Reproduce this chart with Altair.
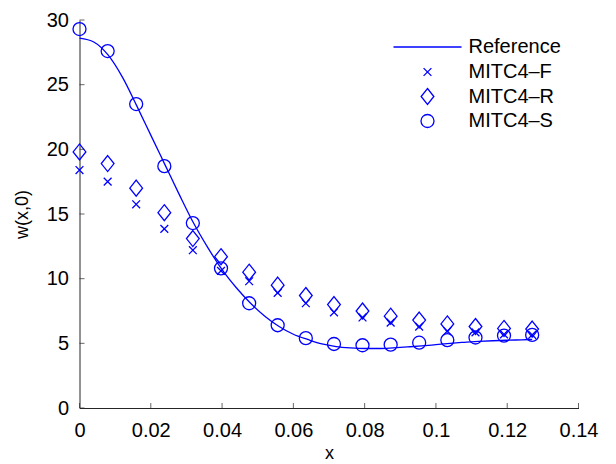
import altair as alt
import pandas as pd

# ---- data ----
x_pts = [0.0, 0.0079, 0.0159, 0.0238, 0.0318, 0.0397, 0.0476, 0.0556, 0.0635,
         0.0714, 0.0794, 0.0873, 0.0953, 0.1032, 0.1111, 0.1191, 0.127]
mitc4_f = [18.4, 17.5, 15.75, 13.85, 12.2, 10.6, 9.8, 8.9, 8.1, 7.4, 7.0, 6.6,
           6.3, 5.95, 5.85, 5.7, 5.65]
mitc4_r = [19.8, 18.9, 17.0, 15.1, 13.1, 11.7, 10.5, 9.5, 8.7, 8.0, 7.5, 7.1,
           6.8, 6.5, 6.3, 6.15, 6.1]
mitc4_s = [29.3, 27.6, 23.5, 18.7, 14.3, 10.8, 8.1, 6.4, 5.4, 4.95, 4.85, 4.9,
           5.05, 5.25, 5.45, 5.6, 5.65]

ref_x = [0.0, 0.004, 0.008, 0.012, 0.016, 0.020, 0.024, 0.028, 0.032, 0.036,
         0.040, 0.044, 0.048, 0.052, 0.056, 0.060, 0.064, 0.068, 0.072, 0.076,
         0.080, 0.084, 0.088, 0.092, 0.096, 0.100, 0.104, 0.108, 0.112, 0.116,
         0.120, 0.124, 0.127]
ref_y = [28.6, 28.3, 27.3, 25.6, 23.4, 21.1, 18.8, 16.5, 14.3, 12.4,
         10.7, 9.3, 8.1, 7.1, 6.3, 5.7, 5.3, 4.95, 4.75, 4.65,
         4.6, 4.6, 4.65, 4.72, 4.8, 4.9, 5.0, 5.08, 5.15, 5.2,
         5.24, 5.27, 5.3]

ref_name = ["Reference"]
series_names = ["MITC4\u2013F", "MITC4\u2013R", "MITC4\u2013S"]
x_ticks = [0, 0.02, 0.04, 0.06, 0.08, 0.1, 0.12, 0.14]
y_ticks = [0, 5, 10, 15, 20, 25, 30]

BLUE = "#0000ff"
AXIS = "#262626"
FONT = "Liberation Sans"

cross_path = "M-0.6,-0.6L0.6,0.6M-0.6,0.6L0.6,-0.6"
diamond_path = "M0,-1.23L0.98,0L0,1.23L-0.98,0Z"

ref_df = pd.DataFrame({"x": ref_x, "y": ref_y, "name": ref_name[0]})
pts_df = pd.concat([
    pd.DataFrame({"x": x_pts, "y": mitc4_f, "series": series_names[0]}),
    pd.DataFrame({"x": x_pts, "y": mitc4_r, "series": series_names[1]}),
    pd.DataFrame({"x": x_pts, "y": mitc4_s, "series": series_names[2]}),
])

xscale = alt.Scale(domain=[0, 0.14], nice=False, zero=False)
yscale = alt.Scale(domain=[0, 30], nice=False, zero=False)

xaxis = alt.Axis(values=x_ticks, format="~g", title="x", ticks=False,
                 labelFlush=False, labelOverlap=False,
                 labelPadding=12, titlePadding=4)
yaxis = alt.Axis(values=y_ticks, title="w(x,0)", ticks=False,
                 labelFlush=False, labelOverlap=False,
                 labelPadding=11, titlePadding=15)

line_leg = alt.Legend(title=None, orient="none", legendX=313, legendY=-8,
                      labelFont=FONT, labelFontSize=20, labelColor="black",
                      labelOffset=6, padding=0, symbolType="stroke",
                      symbolSize=4624, symbolStrokeWidth=1.3,
                      symbolStrokeColor=BLUE)

pt_leg = alt.Legend(title=None, orient="none", legendX=338, legendY=42,
                    labelFont=FONT, labelFontSize=20, labelColor="black",
                    labelOffset=31, rowPadding=3.5, padding=0, symbolSize=169,
                    symbolStrokeColor=BLUE, symbolFillColor="transparent",
                    symbolStrokeWidth=1.3)

line = alt.Chart(ref_df).mark_line(strokeWidth=1.3,
                                   interpolate="monotone").encode(
    x=alt.X("x:Q", scale=xscale, axis=xaxis),
    y=alt.Y("y:Q", scale=yscale, axis=yaxis),
    stroke=alt.Stroke("name:N", scale=alt.Scale(domain=ref_name, range=[BLUE]),
                      legend=line_leg),
)

points = alt.Chart(pts_df).mark_point(color=BLUE, filled=False, size=169,
                                      strokeWidth=1.3, opacity=1).encode(
    x=alt.X("x:Q", scale=xscale),
    y=alt.Y("y:Q", scale=yscale),
    shape=alt.Shape("series:N", sort=series_names,
                    scale=alt.Scale(domain=series_names,
                                    range=[cross_path, diamond_path, "circle"]),
                    legend=pt_leg),
)

ytick_df = pd.DataFrame({"v": y_ticks})
xtick_df = pd.DataFrame({"v": x_ticks})

yticks = alt.Chart(ytick_df).mark_tick(color=AXIS, thickness=1, size=5,
                                       orient="horizontal", xOffset=2.5).encode(
    y=alt.Y("v:Q", scale=yscale),
    x=alt.datum(0),
)
xticks = alt.Chart(xtick_df).mark_tick(color=AXIS, thickness=1, size=5,
                                       orient="vertical", yOffset=-2.5).encode(
    x=alt.X("v:Q", scale=xscale),
    y=alt.datum(0),
)

chart = alt.layer(line, points, yticks, xticks).properties(
    width=499, height=388,
    autosize=alt.AutoSizeParams(type="none"),
    padding={"left": 71.5, "top": 12, "right": 21, "bottom": 56},
    background="white",
).configure_view(stroke=None).configure_axis(
    domainColor=AXIS, domainWidth=1, grid=False,
    labelFont=FONT, labelFontSize=20, labelColor="black",
    titleFont=FONT, titleFontSize=18, titleFontWeight="normal", titleColor="black",
)

chart.save("out.html", embed_options={"renderer": "svg", "actions": False})
